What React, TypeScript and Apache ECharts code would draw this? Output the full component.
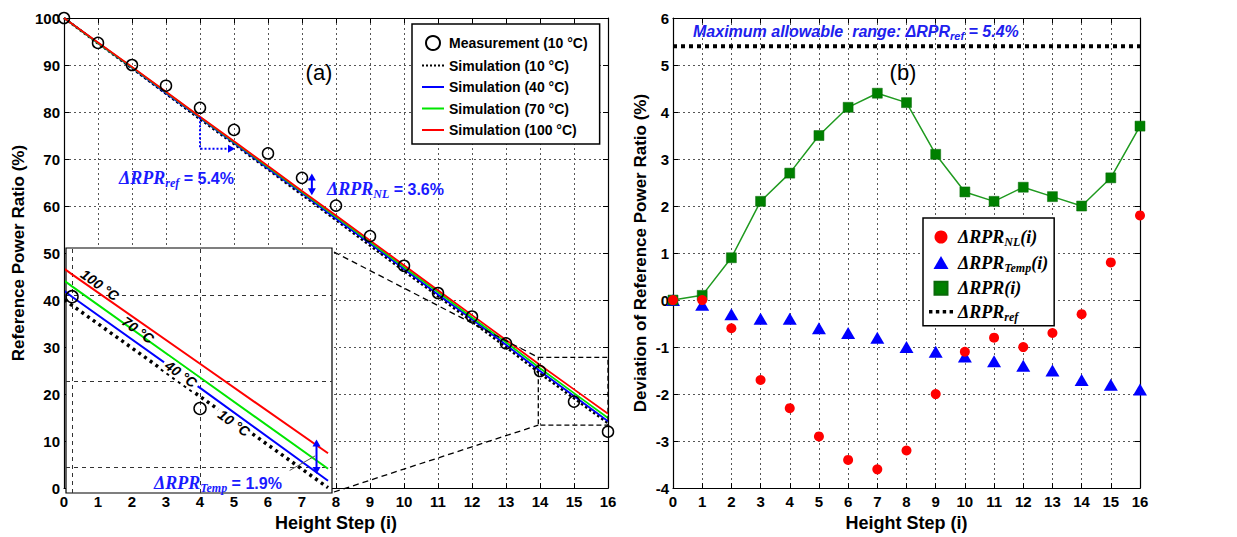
import React, { useEffect, useRef } from "react";
import * as echarts from "echarts";

// ---------------- data ----------------
const steps = [0, 1, 2, 3, 4, 5, 6, 7, 8, 9, 10, 11, 12, 13, 14, 15, 16];
const measurement10 = [100, 94.7, 90.0, 85.6, 80.9, 76.2, 71.2, 66.0, 60.1, 53.6, 47.3, 41.5, 36.5, 30.8, 24.9, 18.4, 12.0];
const simulation10 = [100, 94.6, 89.3, 83.9, 78.5, 73.2, 67.8, 62.4, 57.0, 51.6, 46.2, 40.8, 35.4, 30.0, 24.4, 19.1, 13.8];
const simulation40 = [100, 94.7, 89.4, 84.0, 78.7, 73.4, 68.0, 62.7, 57.3, 52.0, 46.6, 41.2, 35.9, 30.5, 24.9, 19.6, 14.2];
const simulation70 = [100, 94.7, 89.5, 84.2, 78.9, 73.6, 68.3, 63.0, 57.7, 52.4, 47.0, 41.7, 36.3, 31.0, 25.5, 20.2, 14.9];
const simulation100 = [100, 94.8, 89.6, 84.3, 79.0, 73.8, 68.5, 63.2, 58.0, 52.7, 47.4, 42.1, 36.8, 31.5, 26.2, 21.0, 15.8];
const devNL = [0, 0, -0.6, -1.7, -2.3, -2.9, -3.4, -3.6, -3.2, -2.0, -1.1, -0.8, -1.0, -0.7, -0.3, 0.8, 1.8];
const devTemp = [0, -0.1, -0.3, -0.4, -0.4, -0.6, -0.7, -0.8, -1.0, -1.1, -1.2, -1.3, -1.4, -1.5, -1.7, -1.8, -1.9];
const devTotal = [0, 0.1, 0.9, 2.1, 2.7, 3.5, 4.1, 4.4, 4.2, 3.1, 2.3, 2.1, 2.4, 2.2, 2.0, 2.6, 3.7];
const refRange = 5.4;
const insetXRange = [13.953, 16.031];
const insetYRange = [13.49, 27.73];
const insetGridX = [14, 15];
const insetGridY = [15, 20, 25];

const pairs = (ys: number[]) => steps.map((s, i) => [s, ys[i]]);

// ---------------- styles ----------------
const SANS = "'Liberation Sans', Arial, sans-serif";
const SERIF = "'Liberation Serif', 'Times New Roman', serif";
const BLUE_TXT = "#1a1aff";

const GRID_A = { left: 64, top: 18, width: 544, height: 475 };
const GRID_IN = { left: 66, top: 248, width: 266, height: 245 };
const GRID_B = { left: 673, top: 18, width: 467, height: 475 };

const ICON_LINE = "path://M0,0h24v2.2h-24z";
const ICON_DOTS_A = "path://M0,0h2v2h-2z M4,0h2v2h-2z M8,0h2v2h-2z M12,0h2v2h-2z M16,0h2v2h-2z M20,0h2v2h-2z";
const ICON_DOTS_B = "path://M0,0h3v3h-3z M6,0h3v3h-3z M12,0h3v3h-3z M18,0h3v3h-3z";
const ICON_SQUARE = "path://M0,0h10v10h-10z";
const ICON_TRI = "path://M6,0L12,10.4L0,10.4Z";

const splitDots = { show: true, lineStyle: { color: "#555", type: [2, 3], width: 1 } };
const axisLineBlack = { show: true, onZero: false, lineStyle: { color: "#000", width: 1.2 } };
const tickIn = { show: true, inside: true, length: 5, lineStyle: { color: "#000", width: 1 } };
const tickLabel = { fontFamily: SANS, fontWeight: "bold", fontSize: 15, color: "#000" };
const nameStyle = { fontFamily: SANS, fontWeight: "bold", fontSize: 17, color: "#000" };

function mainX(gridIndex: number, name: string) {
  return {
    gridIndex, type: "value", min: 0, max: 16, interval: 1,
    name, nameLocation: "middle", nameGap: 19,
    nameTextStyle: { ...nameStyle, fontSize: 18 },
    axisLine: axisLineBlack, axisTick: tickIn,
    axisLabel: { ...tickLabel, margin: 6 },
    splitLine: splitDots,
  };
}
function topX(gridIndex: number) {
  return {
    gridIndex, type: "value", min: 0, max: 16, interval: 1, position: "top",
    axisLine: axisLineBlack, axisTick: tickIn, axisLabel: { show: false }, splitLine: { show: false },
  };
}
function mainY(gridIndex: number, name: string, min: number, max: number, interval: number, gap: number) {
  return {
    gridIndex, type: "value", min, max, interval,
    name, nameLocation: "middle", nameGap: gap, nameTextStyle: nameStyle,
    axisLine: axisLineBlack, axisTick: tickIn,
    axisLabel: { ...tickLabel, margin: 4 },
    splitLine: splitDots,
  };
}
function rightY(gridIndex: number, min: number, max: number, interval: number) {
  return {
    gridIndex, type: "value", min, max, interval, position: "right",
    axisLine: axisLineBlack, axisTick: tickIn, axisLabel: { show: false }, splitLine: { show: false },
  };
}

const legendNames: Record<string, string> = {
  "ΔRPR_NL(i)": "{m|ΔRPR}{s|NL}{m|(i)}",
  "ΔRPR_Temp(i)": "{m|ΔRPR}{s|Temp}{m|(i)}",
  "ΔRPR(i)": "{m|ΔRPR(i)}",
  "ΔRPR_ref": "{m|ΔRPR}{s|ref}",
};

function mathRich(color: string, size: number, subSize: number, family = SERIF) {
  return {
    m: { fontFamily: family, fontWeight: "bold", fontStyle: "italic", fontSize: size, fill: color, color },
    s: { fontFamily: family, fontWeight: "bold", fontStyle: "italic", fontSize: subSize, fill: color, color, padding: [10, 0, 0, 0] },
    t: { fontFamily: SANS, fontWeight: "bold", fontSize: 16, fill: color, color },
    n: { fontFamily: SANS, fontWeight: "bold", fontStyle: "italic", fontSize: 16, fill: color, color },
  };
}

function simLine(name: string, ys: number[], color: string, width: number, type: any, z: number) {
  return {
    name, type: "line", xAxisIndex: 0, yAxisIndex: 0, data: pairs(ys), symbol: "none",
    itemStyle: { color }, lineStyle: { color, width, type }, z,
  };
}

function buildOption() {
  const inset = (name: string, ys: number[], color: string, width: number, type: any, extra: any = {}) => ({
    name, type: "line", xAxisIndex: 2, yAxisIndex: 2, data: pairs(ys), symbol: "none", clip: true,
    itemStyle: { color }, lineStyle: { color, width, type }, z: 5, silent: true, ...extra,
  });
  return {
    animation: false,
    backgroundColor: "#fff",
    grid: [
      { ...GRID_A, containLabel: false },
      { ...GRID_IN, containLabel: false },
      { ...GRID_B, containLabel: false },
    ],
    xAxis: [
      mainX(0, "Height Step (i)"),
      topX(0),
      { gridIndex: 1, type: "value", min: insetXRange[0], max: insetXRange[1], show: false },
      mainX(2, "Height Step (i)"),
      topX(2),
    ],
    yAxis: [
      mainY(0, "Reference Power Ratio (%)", 0, 100, 10, 37),
      rightY(0, 0, 100, 10),
      { gridIndex: 1, type: "value", min: insetYRange[0], max: insetYRange[1], show: false },
      mainY(2, "Deviation of Reference Power Ratio (%)", -4, 6, 1, 24),
      rightY(2, -4, 6, 1),
    ],
    legend: [
      {
        data: [
          { name: "Measurement (10 °C)" },
          { name: "Simulation (10 °C)", icon: ICON_DOTS_A },
          { name: "Simulation (40 °C)", icon: ICON_LINE },
          { name: "Simulation (70 °C)", icon: ICON_LINE },
          { name: "Simulation (100 °C)", icon: ICON_LINE },
        ],
        orient: "vertical", left: 412, top: 24, itemWidth: 22, itemHeight: 14, itemGap: 7.5, itemTextGap: 5,
        padding: [11, 12, 7, 10], borderColor: "#000", borderWidth: 1.5, backgroundColor: "#fff",
        textStyle: { fontFamily: SANS, fontWeight: "bold", fontSize: 14, color: "#000" },
        selectedMode: false, z: 20,
      },
      {
        data: [
          { name: "ΔRPR_NL(i)", icon: "circle" },
          { name: "ΔRPR_Temp(i)", icon: ICON_TRI },
          { name: "ΔRPR(i)", icon: ICON_SQUARE },
          { name: "ΔRPR_ref", icon: ICON_DOTS_B },
        ],
        orient: "vertical", left: 923, top: 218, itemWidth: 24, itemHeight: 13, itemGap: 5.6, itemTextGap: 6,
        padding: [10, 6, 3, 6], borderColor: "#000", borderWidth: 1.5, backgroundColor: "#fff",
        formatter: (name: string) => legendNames[name] || name,
        textStyle: { rich: mathRich("#000", 18, 12) },
        selectedMode: false, z: 20,
      },
    ],
    series: [
      // (a) main
      simLine("Simulation (10 °C)", simulation10, "#000", 2.5, "dotted", 2),
      simLine("Simulation (40 °C)", simulation40, "#0000ff", 1.8, "solid", 3),
      simLine("Simulation (70 °C)", simulation70, "#00e600", 1.8, "solid", 3),
      simLine("Simulation (100 °C)", simulation100, "#ff0000", 1.8, "solid", 3),
      { name: "Measurement (10 °C)", type: "scatter", xAxisIndex: 0, yAxisIndex: 0, data: pairs(measurement10),
        symbol: "circle", symbolSize: 11,
        itemStyle: { color: "rgba(255,255,255,0)", borderColor: "#000", borderWidth: 1.5, opacity: 1 }, z: 6 },
      // inset
      inset("inset 10", simulation10, "#000", 3.5, [3, 4], {
        markLine: {
          silent: true, symbol: "none", label: { show: false },
          lineStyle: { color: "#333", type: [4, 4], width: 1 },
          data: [...insetGridX.map((v) => ({ xAxis: v })), ...insetGridY.map((v) => ({ yAxis: v }))],
        },
      }),
      inset("inset 40", simulation40, "#0000ff", 2, "solid"),
      inset("inset 70", simulation70, "#00e600", 2, "solid"),
      inset("inset 100", simulation100, "#ff0000", 2, "solid"),
      { name: "inset meas", type: "scatter", xAxisIndex: 2, yAxisIndex: 2, data: pairs(measurement10), clip: true,
        symbol: "circle", symbolSize: 12, silent: true,
        itemStyle: { color: "rgba(255,255,255,0)", borderColor: "#000", borderWidth: 1.5, opacity: 1 }, z: 6 },
      // (b)
      { name: "ΔRPR_Temp(i)", type: "scatter", xAxisIndex: 3, yAxisIndex: 3, data: pairs(devTemp),
        symbol: "triangle", symbolSize: [14, 12], itemStyle: { color: "#0000ff", opacity: 1 }, z: 3 },
      { name: "ΔRPR(i)", type: "line", xAxisIndex: 3, yAxisIndex: 3, data: pairs(devTotal),
        symbol: "rect", symbolSize: 10, showSymbol: true,
        itemStyle: { color: "#008000", borderColor: "#0a6a0a", borderWidth: 0.5, opacity: 1 },
        lineStyle: { color: "#1f9a1f", width: 1.5 }, z: 4 },
      { name: "ΔRPR_NL(i)", type: "scatter", xAxisIndex: 3, yAxisIndex: 3, data: pairs(devNL),
        symbol: "circle", symbolSize: 10, itemStyle: { color: "#ff0000", opacity: 1 }, z: 5 },
      { name: "ΔRPR_ref", type: "line", xAxisIndex: 3, yAxisIndex: 3, data: steps.map((s) => [s, refRange]),
        symbol: "none", itemStyle: { color: "#000" }, lineStyle: { color: "#000", width: 4, type: "dotted" }, z: 4 },
    ],
  };
}

function arrowHead(tip: number[], dir: number[], color: string, len = 8, half = 4) {
  const [dx, dy] = dir;
  const bx = tip[0] - dx * len, by = tip[1] - dy * len;
  return {
    type: "polygon", z: 12, silent: true,
    shape: { points: [tip, [bx - dy * half, by + dx * half], [bx + dy * half, by - dx * half]] },
    style: { fill: color },
  };
}

function buildGraphics(chart: any) {
  const pA = (x: number, y: number) => chart.convertToPixel({ seriesIndex: 0 }, [x, y]);
  const pI = (x: number, y: number) => chart.convertToPixel({ seriesIndex: 5 }, [x, y]);
  const g: any[] = [];

  // inset frame (white, covers main grid lines)
  g.push({
    type: "rect", z: 1, silent: true,
    shape: { x: GRID_IN.left, y: GRID_IN.top, width: GRID_IN.width, height: GRID_IN.height },
    style: { fill: "#fff", stroke: "#000", lineWidth: 1.2 },
  });

  // zoom box on main chart
  const b1 = pA(13.95, 27.8), b2 = pA(16, 13.4);
  g.push({
    type: "rect", z: 10, silent: true,
    shape: { x: b1[0], y: b1[1], width: b2[0] - b1[0], height: b2[1] - b1[1] },
    style: { fill: "none", stroke: "#000", lineWidth: 1.3, lineDash: [5, 3] },
  });
  const insetR = GRID_IN.left + GRID_IN.width + 2;
  g.push({ type: "line", z: 10, silent: true, shape: { x1: insetR, y1: GRID_IN.top + 4, x2: b1[0], y2: b1[1] },
    style: { stroke: "#000", lineWidth: 1.3, lineDash: [6, 4] } });
  g.push({ type: "line", z: 10, silent: true, shape: { x1: insetR, y1: GRID_IN.top + GRID_IN.height - 1, x2: b1[0], y2: b2[1] },
    style: { stroke: "#000", lineWidth: 1.3, lineDash: [6, 4] } });

  // dotted L arrow (ΔRPR_ref)
  const l1 = pA(4, 78.9), l2 = pA(4, 72.2), l3 = pA(4.85, 72.2), lt = pA(5.03, 72.2);
  g.push({ type: "polyline", z: 12, silent: true, shape: { points: [l1, l2, l3] },
    style: { stroke: "#0000ff", lineWidth: 2, lineDash: [2, 2], fill: "none" } });
  g.push(arrowHead(lt, [1, 0], "#0000ff", 7, 4));

  // double arrow ΔRPR_NL
  const n1 = pA(7.29, 66.9), n2 = pA(7.29, 62.3);
  g.push({ type: "line", z: 12, silent: true, shape: { x1: n1[0], y1: n1[1] + 5, x2: n2[0], y2: n2[1] - 5 },
    style: { stroke: "#0000ff", lineWidth: 2 } });
  g.push(arrowHead(n1, [0, -1], "#0000ff", 7, 4));
  g.push(arrowHead(n2, [0, 1], "#0000ff", 7, 4));

  // inset double arrow ΔRPR_Temp
  const t1 = pI(15.91, 16.6), t2 = pI(15.91, 14.6);
  g.push({ type: "line", z: 12, silent: true, shape: { x1: t1[0], y1: t1[1] + 5, x2: t2[0], y2: t2[1] - 5 },
    style: { stroke: "#0000ff", lineWidth: 2 } });
  g.push(arrowHead(t1, [0, -1], "#0000ff", 7, 4));
  g.push(arrowHead(t2, [0, 1], "#0000ff", 7, 4));
  const g1 = pI(15.7, 14.8), g2 = pI(15.9, 15.65);
  g.push({ type: "line", z: 11, silent: true, shape: { x1: g1[0], y1: g1[1], x2: g2[0], y2: g2[1] },
    style: { stroke: "#555", lineWidth: 1 } });

  // texts
  const txt = (x: number, y: number, text: string, rich: any, align = "left") => ({
    type: "text", z: 14, silent: true, x, y,
    style: { text, x: 0, y: 0, align, verticalAlign: "middle", rich },
  });
  g.push({ type: "text", z: 14, silent: true, x: 319, y: 72,
    style: { text: "(a)", align: "center", verticalAlign: "middle", font: `22px ${SANS}`, fill: "#000" } });
  g.push({ type: "text", z: 14, silent: true, x: 903, y: 72,
    style: { text: "(b)", align: "center", verticalAlign: "middle", font: `22px ${SANS}`, fill: "#000" } });

  const blueRich = mathRich(BLUE_TXT, 18, 12);
  g.push(txt(119, 178, "{m|ΔRPR}{s|ref}{t| = 5.4%}", blueRich));
  g.push(txt(327, 189, "{m|ΔRPR}{s|NL}{t| = 3.6%}", blueRich));
  g.push(txt(154, 483, "{m|ΔRPR}{s|Temp}{t| = 1.9%}", blueRich));
  const titleRich = mathRich("#2020ee", 16, 11, SANS);
  g.push(txt(693, 31, "{n|Maximum allowable  range: }{m|ΔRPR}{s|ref}{n| = 5.4%}", titleRich));

  // rotated temperature labels in the inset
  const rot = -0.62;
  const lab = (x: number, y: number, text: string, bg: boolean) => ({
    type: "text", z: 13, silent: true, x, y, rotation: rot,
    style: {
      text, x: 0, y: 0, align: "center", verticalAlign: "middle",
      font: `italic bold 14px ${SANS}`, fill: "#000",
      backgroundColor: bg ? "#fff" : undefined, padding: bg ? [0, 3] : 0,
    },
  });
  g.push(lab(100, 285, "100 °C", false));
  g.push(lab(138, 330, "70 °C", false));
  g.push(lab(181, 374, "40 °C", true));
  g.push(lab(234, 423, "10 °C", true));
  return g;
}

export default function App() {
  const ref = useRef<HTMLDivElement>(null);
  useEffect(() => {
    if (!ref.current) return;
    const chart = echarts.init(ref.current, undefined, { renderer: "svg" });
    chart.setOption(buildOption() as any);
    chart.setOption({ graphic: { elements: buildGraphics(chart) } } as any);
    return () => chart.dispose();
  }, []);
  return (
    <div
      ref={ref}
      style={{ position: "absolute", left: 0, top: 0, width: 1237, height: 537, background: "#fff" }}
    />
  );
}
